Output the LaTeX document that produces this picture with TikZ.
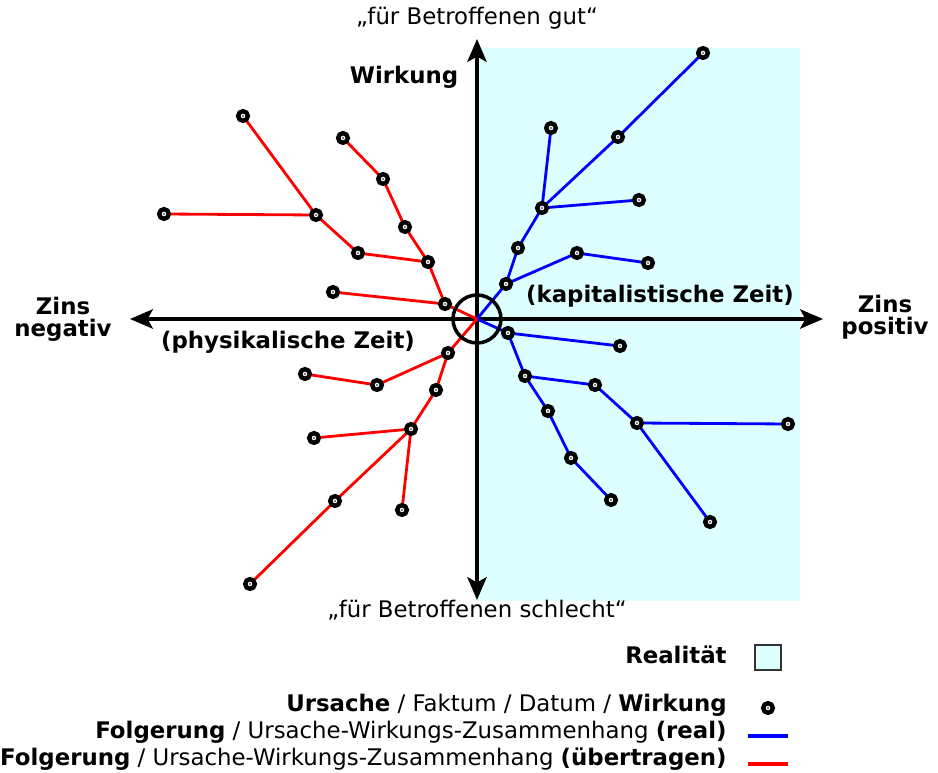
\documentclass[tikz,border=0pt]{standalone}
\usepackage{fontspec}
\setmainfont{DejaVu Sans}
\usetikzlibrary{arrows.meta}
\definecolor{realitaet}{RGB}{222,255,255}
\tikzset{
    axis/.style={line width=2pt, {Stealth[length=13pt, width=11pt, inset=3pt]}-{Stealth[length=13pt, width=11pt, inset=3pt]}},
    real/.style={blue, line width=1.6pt},
    uebertragen/.style={red, line width=1.6pt},
    dot/.style={circle, draw=black, fill=white, line width=2.5pt, minimum size=5.5pt, inner sep=0pt,
        path picture={\fill[black] (path picture bounding box.center) circle[radius=0.5pt];}},
    lbl/.style={font=\fontsize{13}{15}\selectfont, inner sep=0pt},
    blbl/.style={font=\fontsize{13}{15}\selectfont\bfseries, inner sep=0pt}
}
\begin{document}
\begin{tikzpicture}[x=0.02cm, y=-0.02cm]
    \useasboundingbox (0,0) rectangle (938,773);

    % Realitaet
    \fill[realitaet] (477,48) rectangle (800,601);

    % Axes
    \coordinate (o) at (477,319);
    \coordinate (west) at (130,319);
    \coordinate (east) at (823,319);
    \coordinate (north) at (477,39);
    \coordinate (south) at (477,600);
    \draw[axis] (west) -- (east);
    \draw[axis] (south) -- (north);

    % Real (blue), upper
    \coordinate (r1) at (506,284);
    \coordinate (r2) at (518,248);
    \coordinate (r3) at (542,208);
    \coordinate (r4) at (551,128);
    \coordinate (r5) at (618,137);
    \coordinate (r6) at (703,53);
    \coordinate (r7) at (639,200);
    \coordinate (r8) at (577,253);
    \coordinate (r9) at (648,263);
    % Real (blue), lower
    \coordinate (s1) at (508,333);
    \coordinate (s2) at (620,346);
    \coordinate (s3) at (525,376);
    \coordinate (s4) at (595,385);
    \coordinate (s5) at (637,423);
    \coordinate (s6) at (788,424);
    \coordinate (s7) at (710,522);
    \coordinate (s8) at (548,411);
    \coordinate (s9) at (571,458);
    \coordinate (s10) at (611,500);
    % Uebertragen (red), upper
    \coordinate (u1) at (445,304);
    \coordinate (u2) at (333,292);
    \coordinate (u3) at (428,262);
    \coordinate (u4) at (358,253);
    \coordinate (u5) at (316,215);
    \coordinate (u6) at (164,214);
    \coordinate (u7) at (243,116);
    \coordinate (u8) at (405,227);
    \coordinate (u9) at (383,179);
    \coordinate (u10) at (343,138);
    % Uebertragen (red), lower
    \coordinate (v1) at (448,353);
    \coordinate (v2) at (377,385);
    \coordinate (v3) at (305,374);
    \coordinate (v4) at (436,390);
    \coordinate (v5) at (411,429);
    \coordinate (v6) at (314,438);
    \coordinate (v7) at (402,510);
    \coordinate (v8) at (335,501);
    \coordinate (v9) at (250,584);

    % Connections
    \foreach \a/\b in {o/r1, r1/r2, r2/r3, r3/r4, r3/r5, r5/r6, r3/r7, r1/r8, r8/r9,
                       o/s1, s1/s2, s1/s3, s3/s4, s4/s5, s5/s6, s5/s7, s3/s8, s8/s9, s9/s10}
        \draw[real] (\a) -- (\b);
    \foreach \a/\b in {o/u1, u1/u2, u1/u3, u3/u4, u4/u5, u5/u6, u5/u7, u3/u8, u8/u9, u9/u10,
                       o/v1, v1/v2, v2/v3, v1/v4, v4/v5, v5/v6, v5/v7, v5/v8, v8/v9}
        \draw[uebertragen] (\a) -- (\b);

    % Origin
    \draw[line width=2pt] (o) circle[radius=24];

    % Facts
    \foreach \p in {r1, r2, r3, r4, r5, r6, r7, r8, r9, s1, s2, s3, s4, s5, s6, s7, s8, s9, s10,
                    u1, u2, u3, u4, u5, u6, u7, u8, u9, u10, v1, v2, v3, v4, v5, v6, v7, v8, v9}
        \node[dot] (d\p) at (\p) {};

    % Labels
    \node[lbl, anchor=base] (gut) at (477,25) {„für Betroffenen gut“};
    \node[lbl, anchor=base] (schlecht) at (477,618) {„für Betroffenen schlecht“};
    \node[blbl, anchor=base] (wirkung) at (404,84) {Wirkung};
    \node[blbl, anchor=base] (zinsneg) at (63,315) {Zins};
    \node[blbl, anchor=base] (negativ) at (63,337) {negativ};
    \node[blbl, anchor=base] (zinspos) at (885,313) {Zins};
    \node[blbl, anchor=base] (positiv) at (885,335) {positiv};
    \node[blbl, anchor=base] (physzeit) at (288,349) {(physikalische Zeit)};
    \node[blbl, anchor=base] (kapzeit) at (660,303) {(kapitalistische Zeit)};

    % Legend
    \node[blbl, anchor=base east] (lgreal) at (727,664) {Realität};
    \draw[draw=black!80, fill=realitaet, line width=0.8pt] (755,645) rectangle (781,670);
    \node[lbl, anchor=base east] (lgfakt) at (727,712) {\textbf{Ursache} / Faktum / Datum / \textbf{Wirkung}};
    \node[dot] (lgdot) at (768,708) {};
    \node[lbl, anchor=base east] (lgblue) at (727,739) {\textbf{Folgerung} / Ursache-Wirkungs-Zusammenhang \textbf{(real)}};
    \coordinate (lb1) at (748,736);
    \coordinate (lb2) at (788,736);
    \draw[real, line width=2pt] (lb1) -- (lb2);
    \node[lbl, anchor=base east] (lgred) at (727,766) {\textbf{Folgerung} / Ursache-Wirkungs-Zusammenhang \textbf{(übertragen)}};
    \coordinate (lr1) at (748,764);
    \coordinate (lr2) at (788,764);
    \draw[uebertragen, line width=2pt] (lr1) -- (lr2);
\end{tikzpicture}
\end{document}
